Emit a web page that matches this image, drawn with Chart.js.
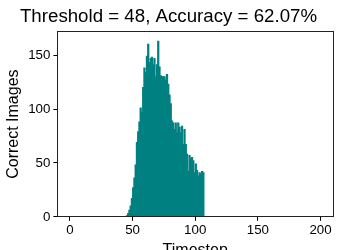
<!DOCTYPE html>
<html lang="en">
<head>
  <meta charset="UTF-8">
  <title>Threshold = 48</title>
  <script src="https://cdn.jsdelivr.net/npm/chart.js"></script>
  <style>
    body {
      margin: 0;
      background: #ffffff;
      overflow: hidden;
    }
    #wrap {
      width: 348px;
      height: 260px;
    }
  </style>
</head>
<body>
  <div id="wrap">
    <canvas id="histChart" width="348" height="260"></canvas>
  </div>

  <script>
// Histogram bins (timestep) and number of correct images per bin
const timesteps = [45, 46, 47, 48, 49, 50, 51, 52, 53, 54, 55, 56, 57, 58, 59, 60,
  61, 62, 63, 64, 65, 66, 67, 68, 69, 70, 71, 72, 73, 74, 75, 76, 77, 78, 79, 80,
  81, 82, 83, 84, 85, 86, 87, 88, 89, 90, 91, 92, 93, 94, 95, 96, 97, 98, 99, 100,
  101, 102, 103, 104, 105, 106];
const correctImages = [1, 3, 6, 10, 17, 27, 36, 48, 69, 79, 88, 101, 97, 120, 138, 134,
  149, 160, 143, 147, 148, 141, 147, 130, 141, 163, 139, 131, 130, 130, 130, 127,
  132, 123, 113, 105, 89, 87, 81, 87, 78, 87, 83, 78, 84, 67, 81, 67, 58, 42, 57, 54,
  55, 52, 41, 49, 43, 38, 41, 40, 42, 41];
const xTicks = [0, 50, 100, 150, 200];
const yTicks = [0, 50, 100, 150];

const FONT = "'Liberation Sans', Arial, sans-serif";

// full box around the axes, like matplotlib spines
const boxPlugin = {
  id: 'box',
  afterDraw(chart) {
    const a = chart.chartArea;
    const ctx = chart.ctx;
    ctx.save();
    ctx.strokeStyle = '#222';
    ctx.lineWidth = 1;
    ctx.strokeRect(Math.round(a.left) + 0.5, Math.round(a.top) + 0.5,
      Math.round(a.right - a.left), Math.round(a.bottom - a.top));
    ctx.restore();
  }
};

const fixTicks = (values) => (scale) => {
  scale.ticks = values.map(v => ({ value: v }));
};

new Chart(document.getElementById('histChart'), {
  type: 'bar',
  data: {
    datasets: [{
      label: 'Correct Images',
      // bin [t, t+1) drawn at its centre
      data: timesteps.map((t, i) => ({ x: t + 0.5, y: correctImages[i] })),
      backgroundColor: '#008080',
      borderWidth: 0,
      barPercentage: 1,
      categoryPercentage: 1,
      inflateAmount: 0.5,
      grouped: false
    }]
  },
  options: {
    responsive: false,
    animation: false,
    layout: { padding: { left: 4, right: 15, top: 0, bottom: 0 } },
    plugins: {
      legend: { display: false },
      tooltip: { enabled: false },
      title: {
        display: true,
        text: 'Threshold = 48, Accuracy = 62.07%',
        color: '#000',
        font: { family: FONT, size: 18.7, weight: 'normal' },
        padding: { top: 6, bottom: 3 }
      }
    },
    scales: {
      x: {
        type: 'linear',
        min: -10,
        max: 210,
        offset: false,
        afterBuildTicks: fixTicks(xTicks),
        grid: { display: true, offset: false, drawOnChartArea: false, color: '#000', tickLength: 4 },
        border: { display: true, color: '#222' },
        ticks: { color: '#000', padding: 2, maxRotation: 0, font: { family: FONT, size: 13.3 } },
        title: {
          display: true,
          text: 'Timestep',
          color: '#000',
          padding: { top: 0, bottom: 0 },
          font: { family: FONT, size: 16 }
        }
      },
      y: {
        min: 0,
        max: 172,
        afterBuildTicks: fixTicks(yTicks),
        grid: { display: true, drawOnChartArea: false, color: '#000', tickLength: 4 },
        border: { display: true, color: '#222' },
        ticks: { color: '#000', padding: 3, font: { family: FONT, size: 13.3 } },
        title: {
          display: true,
          text: 'Correct Images',
          color: '#000',
          padding: { top: 0, bottom: 2 },
          font: { family: FONT, size: 16 }
        }
      }
    }
  },
  plugins: [boxPlugin]
});
  </script>
</body>
</html>
